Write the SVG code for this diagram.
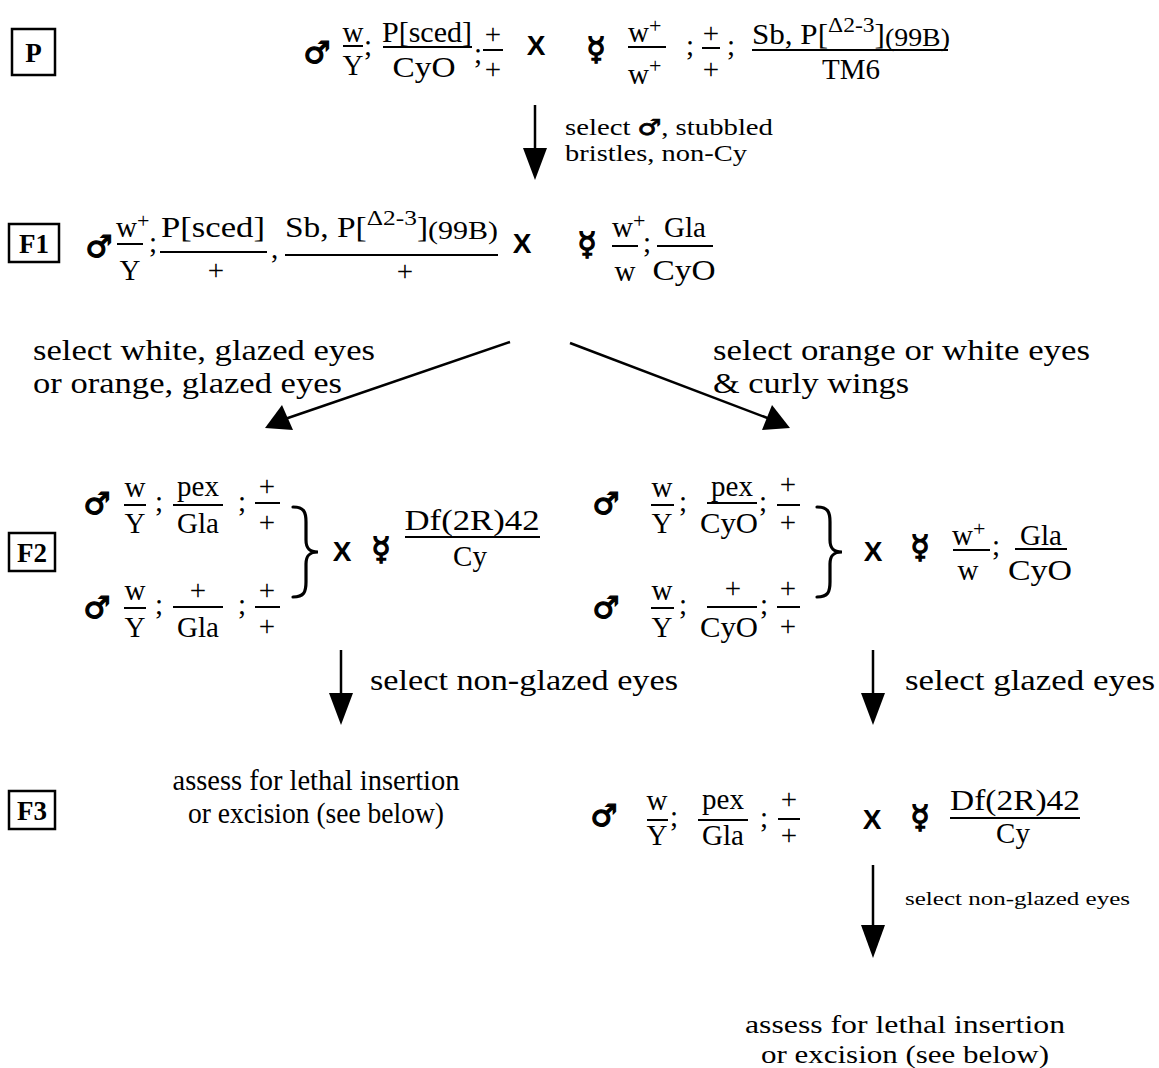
<svg xmlns="http://www.w3.org/2000/svg" width="1159" height="1068" viewBox="0 0 1159 1068">
  <style>
    .t { font-family: "Liberation Serif", serif; font-size: 29px; fill: #000; }
    .m { text-anchor: middle; }
    .sup { font-size: 22px; }
    .bar { stroke: #000; stroke-width: 2; }
    .box { fill: none; stroke: #000; stroke-width: 2.5; }
    .gen { font-family: "Liberation Serif", serif; font-weight: bold; font-size: 27px; text-anchor: middle; }
    .sym { font-family: "DejaVu Sans", sans-serif; font-weight: bold; font-size: 30px; text-anchor: middle; stroke: #000; stroke-width: 1.3; }
    .fem { font-size: 32px; }
    .x { font-family: "Liberation Sans", sans-serif; font-weight: bold; font-size: 28px; text-anchor: middle; }
    .lab { font-family: "Liberation Serif", serif; font-size: 29px; }
    .end { font-family: "Liberation Serif", serif; font-size: 26px; }
    .small { font-family: "Liberation Serif", serif; font-size: 24px; }
    .tiny { font-family: "Liberation Serif", serif; font-size: 18px; }
    .brace { fill: none; stroke: #000; stroke-width: 3.2; stroke-linecap: round; }
    .conn { stroke: #000; stroke-width: 2.5; fill: none; }
    .head { fill: #000; }
  </style>

  <!-- generation labels -->
  <g id="gen-P">
    <rect class="box" x="12" y="29" width="43" height="46"/>
    <text class="gen" x="33.5" y="62">P</text>
  </g>
  <g id="gen-F1">
    <rect class="box" x="9" y="224" width="50" height="38"/>
    <text class="gen" x="34" y="253">F1</text>
  </g>
  <g id="gen-F2">
    <rect class="box" x="9" y="533" width="46" height="38"/>
    <text class="gen" x="32" y="562">F2</text>
  </g>
  <g id="gen-F3">
    <rect class="box" x="9" y="791" width="46" height="38"/>
    <text class="gen" x="32" y="820">F3</text>
  </g>

  <!-- P cross -->
  <g id="p-male" class="t">
    <text class="sym" x="317" y="63">♂</text>
    <text class="m" x="353" y="42">w</text>
    <line class="bar" x1="343" y1="46" x2="363" y2="46"/>
    <text class="m" x="353" y="75">Y</text>
    <text x="364" y="55">;</text>
    <text class="m" x="427" y="42" textLength="90" lengthAdjust="spacingAndGlyphs">P[sced]</text>
    <line class="bar" x1="383" y1="47" x2="472" y2="47"/>
    <text class="m" x="424" y="77" textLength="63" lengthAdjust="spacingAndGlyphs">CyO</text>
    <text x="474" y="63">;</text>
    <text class="m" x="493" y="44">+</text>
    <line class="bar" x1="483" y1="50" x2="503" y2="50"/>
    <text class="m" x="493" y="79">+</text>
  </g>
  <text class="x" x="536" y="55">X</text>
  <g id="p-female" class="t">
    <text class="sym fem" x="596" y="60">☿</text>
    <text x="628" y="42">w<tspan class="sup" dy="-9">+</tspan></text>
    <line class="bar" x1="628" y1="47" x2="666" y2="47"/>
    <text x="628" y="84">w<tspan class="sup" dy="-11">+</tspan></text>
    <text x="686" y="55">;</text>
    <text class="m" x="711" y="43">+</text>
    <line class="bar" x1="702" y1="48" x2="720" y2="48"/>
    <text class="m" x="711" y="79">+</text>
    <text x="727" y="55">;</text>
    <text x="752" y="44" textLength="198" lengthAdjust="spacingAndGlyphs">Sb, P[<tspan class="sup" dy="-12">Δ2-3</tspan><tspan dy="12">]</tspan><tspan font-size="26" dy="2">(99B)</tspan></text>
    <line class="bar" x1="752" y1="50" x2="948" y2="50"/>
    <text class="m" x="851" y="79">TM6</text>
  </g>

  <!-- F1 cross -->
  <g id="f1-male" class="t">
    <text class="sym" x="99" y="257">♂</text>
    <text x="116" y="237">w<tspan class="sup" dy="-9">+</tspan></text>
    <line class="bar" x1="117" y1="244" x2="143" y2="244"/>
    <text class="m" x="130" y="280">Y</text>
    <text x="149" y="252">;</text>
    <text class="m" x="213" y="237" textLength="104" lengthAdjust="spacingAndGlyphs">P[sced]</text>
    <line class="bar" x1="160" y1="252" x2="267" y2="252"/>
    <text class="m" x="216" y="280">+</text>
    <text x="271" y="258">,</text>
    <text x="285" y="237" textLength="213" lengthAdjust="spacingAndGlyphs">Sb, P[<tspan class="sup" dy="-12">Δ2-3</tspan><tspan dy="12">]</tspan><tspan font-size="26" dy="2">(99B)</tspan></text>
    <line class="bar" x1="285" y1="255" x2="498" y2="255"/>
    <text class="m" x="405" y="281">+</text>
  </g>
  <text class="x" x="522" y="253">X</text>
  <g id="f1-female" class="t">
    <text class="sym fem" x="587" y="255">☿</text>
    <text x="612" y="237">w<tspan class="sup" dy="-9">+</tspan></text>
    <line class="bar" x1="612" y1="246" x2="638" y2="246"/>
    <text class="m" x="625" y="281">w</text>
    <text x="643" y="252">;</text>
    <text class="m" x="685" y="237">Gla</text>
    <line class="bar" x1="657" y1="246" x2="713" y2="246"/>
    <text class="m" x="684" y="280" textLength="63" lengthAdjust="spacingAndGlyphs">CyO</text>
  </g>

  <!-- F2, left cross -->
  <g id="f2-left-male-a" class="t">
    <text class="sym" x="97" y="514">♂</text>
    <text class="m" x="135" y="497">w</text>
    <line class="bar" x1="124" y1="505" x2="146" y2="505"/>
    <text class="m" x="135" y="533">Y</text>
    <text x="155" y="511">;</text>
    <text class="m" x="198" y="496">pex</text>
    <line class="bar" x1="173" y1="505" x2="223" y2="505"/>
    <text class="m" x="198" y="533">Gla</text>
    <text x="238" y="511">;</text>
    <text class="m" x="267" y="496">+</text>
    <line class="bar" x1="255" y1="503" x2="280" y2="503"/>
    <text class="m" x="267" y="532">+</text>
  </g>
  <g id="f2-left-male-b" class="t">
    <text class="sym" x="97" y="618">♂</text>
    <text class="m" x="135" y="600">w</text>
    <line class="bar" x1="124" y1="608" x2="146" y2="608"/>
    <text class="m" x="135" y="637">Y</text>
    <text x="155" y="614">;</text>
    <text class="m" x="198" y="600">+</text>
    <line class="bar" x1="173" y1="607" x2="223" y2="607"/>
    <text class="m" x="198" y="637">Gla</text>
    <text x="238" y="614">;</text>
    <text class="m" x="267" y="600">+</text>
    <line class="bar" x1="255" y1="607" x2="280" y2="607"/>
    <text class="m" x="267" y="636">+</text>
  </g>
  <path class="brace" d="M293,507 C304,507 306,512 306,522 L306,540 C306,548 309,552 318,552 C309,552 306,556 306,564 L306,582 C306,592 304,597 293,597"/>
  <text class="x" x="342" y="561">X</text>
  <g id="f2-left-female" class="t">
    <text class="sym fem" x="381" y="560">☿</text>
    <text class="m" x="472" y="530" textLength="135" lengthAdjust="spacingAndGlyphs">Df(2R)42</text>
    <line class="bar" x1="405" y1="537" x2="540" y2="537"/>
    <text class="m" x="470" y="566">Cy</text>
  </g>

  <!-- F2, right cross -->
  <g id="f2-right-male-a" class="t">
    <text class="sym" x="606" y="514">♂</text>
    <text class="m" x="662" y="497">w</text>
    <line class="bar" x1="651" y1="505" x2="674" y2="505"/>
    <text class="m" x="662" y="533">Y</text>
    <text x="679" y="511">;</text>
    <text class="m" x="732" y="496">pex</text>
    <line class="bar" x1="707" y1="503" x2="757" y2="503"/>
    <text class="m" x="729" y="533" textLength="58" lengthAdjust="spacingAndGlyphs">CyO</text>
    <text x="759" y="511">;</text>
    <text class="m" x="788" y="494">+</text>
    <line class="bar" x1="777" y1="505" x2="800" y2="505"/>
    <text class="m" x="788" y="532">+</text>
  </g>
  <g id="f2-right-male-b" class="t">
    <text class="sym" x="606" y="618">♂</text>
    <text class="m" x="662" y="600">w</text>
    <line class="bar" x1="651" y1="608" x2="674" y2="608"/>
    <text class="m" x="662" y="637">Y</text>
    <text x="679" y="614">;</text>
    <text class="m" x="733" y="598">+</text>
    <line class="bar" x1="707" y1="607" x2="757" y2="607"/>
    <text class="m" x="729" y="637" textLength="58" lengthAdjust="spacingAndGlyphs">CyO</text>
    <text x="760" y="614">;</text>
    <text class="m" x="788" y="598">+</text>
    <line class="bar" x1="777" y1="607" x2="800" y2="607"/>
    <text class="m" x="788" y="636">+</text>
  </g>
  <path class="brace" d="M817,507 C828,507 830,512 830,522 L830,540 C830,548 833,552 842,552 C833,552 830,556 830,564 L830,582 C830,592 828,597 817,597"/>
  <text class="x" x="873" y="561">X</text>
  <g id="f2-right-female" class="t">
    <text class="sym fem" x="920" y="558">☿</text>
    <text x="952" y="545">w<tspan class="sup" dy="-9">+</tspan></text>
    <line class="bar" x1="953" y1="550" x2="990" y2="550"/>
    <text class="m" x="968" y="580">w</text>
    <text x="992" y="555">;</text>
    <text class="m" x="1041" y="545">Gla</text>
    <line class="bar" x1="1015" y1="549" x2="1067" y2="549"/>
    <text class="m" x="1040" y="580" textLength="64" lengthAdjust="spacingAndGlyphs">CyO</text>
  </g>

  <!-- F3 -->
  <g id="f3-left" class="lab">
    <text class="m" x="316" y="790" textLength="287" lengthAdjust="spacingAndGlyphs">assess for lethal insertion</text>
    <text class="m" x="316" y="823" textLength="256" lengthAdjust="spacingAndGlyphs">or excision (see below)</text>
  </g>
  <g id="f3-male" class="t">
    <text class="sym" x="604" y="826">♂</text>
    <text class="m" x="657" y="810">w</text>
    <line class="bar" x1="647" y1="820" x2="668" y2="820"/>
    <text class="m" x="657" y="845">Y</text>
    <text x="670" y="826">;</text>
    <text class="m" x="723" y="809">pex</text>
    <line class="bar" x1="698" y1="820" x2="748" y2="820"/>
    <text class="m" x="723" y="845">Gla</text>
    <text x="760" y="827">;</text>
    <text class="m" x="789" y="809">+</text>
    <line class="bar" x1="778" y1="819" x2="800" y2="819"/>
    <text class="m" x="789" y="845">+</text>
  </g>
  <text class="x" x="872" y="829">X</text>
  <g id="f3-female" class="t">
    <text class="sym fem" x="920" y="828">☿</text>
    <text class="m" x="1015" y="810" textLength="130" lengthAdjust="spacingAndGlyphs">Df(2R)42</text>
    <line class="bar" x1="950" y1="818" x2="1080" y2="818"/>
    <text class="m" x="1013" y="843">Cy</text>
  </g>

  <g id="final" class="end">
    <text class="m" x="905" y="1033" textLength="320" lengthAdjust="spacingAndGlyphs">assess for lethal insertion</text>
    <text class="m" x="905" y="1063" textLength="288" lengthAdjust="spacingAndGlyphs">or excision (see below)</text>
  </g>

  <!-- connectors -->
  <g id="connectors">
    <line class="conn" x1="535" y1="105" x2="535" y2="152"/>
    <polygon class="head" points="523,148 547,148 535,180"/>

    <line class="conn" x1="510" y1="342" x2="285" y2="419"/>
    <polygon class="head" points="265,428 282,405 293,430"/>

    <line class="conn" x1="570" y1="343" x2="770" y2="419"/>
    <polygon class="head" points="790,428 762,430 772,405"/>

    <line class="conn" x1="341" y1="650" x2="341" y2="697"/>
    <polygon class="head" points="329,693 353,693 341,725"/>

    <line class="conn" x1="873" y1="650" x2="873" y2="697"/>
    <polygon class="head" points="861,693 885,693 873,725"/>

    <line class="conn" x1="873" y1="865" x2="873" y2="928"/>
    <polygon class="head" points="861,925 885,925 873,958"/>
  </g>

  <!-- connector labels -->
  <g id="connector-labels">
    <text class="small" x="565" y="135" textLength="208" lengthAdjust="spacingAndGlyphs">select <tspan font-family="DejaVu Sans" font-weight="bold" font-size="22" stroke="#000" stroke-width="0.8">♂</tspan>, stubbled</text>
    <text class="small" x="565" y="161" textLength="182" lengthAdjust="spacingAndGlyphs">bristles, non-Cy</text>

    <text class="lab" x="33" y="360" textLength="342" lengthAdjust="spacingAndGlyphs">select white, glazed eyes</text>
    <text class="lab" x="33" y="393" textLength="309" lengthAdjust="spacingAndGlyphs">or orange, glazed eyes</text>
    <text class="lab" x="713" y="360" textLength="377" lengthAdjust="spacingAndGlyphs">select orange or white eyes</text>
    <text class="lab" x="713" y="393" textLength="196" lengthAdjust="spacingAndGlyphs">&amp; curly wings</text>

    <text class="lab" x="370" y="690" textLength="308" lengthAdjust="spacingAndGlyphs">select non-glazed eyes</text>
    <text class="lab" x="905" y="690" textLength="250" lengthAdjust="spacingAndGlyphs">select glazed eyes</text>

    <text class="tiny" x="905" y="905" textLength="225" lengthAdjust="spacingAndGlyphs">select non-glazed eyes</text>
  </g>
</svg>
